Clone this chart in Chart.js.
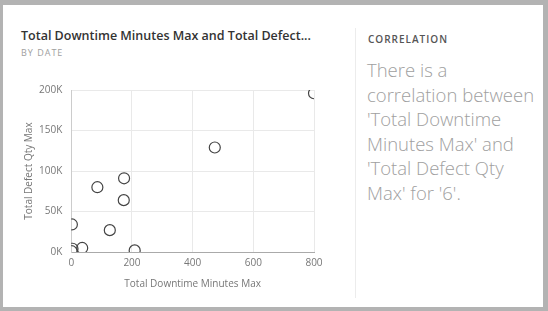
<!DOCTYPE html>
<html>
<head>
<meta charset="utf-8">
<script src="https://cdn.jsdelivr.net/npm/chart.js@4"></script>
<style>
  html, body { margin:0; padding:0; width:548px; height:311px; overflow:hidden; background:#fff; }
  #frame { position:absolute; left:0; top:0; width:548px; height:311px; box-sizing:border-box;
           border-top:5px solid #b3b3b3; border-left:3px solid #b3b3b3; border-right:5px solid #b3b3b3; border-bottom:4px solid #b3b3b3; }
  #title { position:absolute; left:21px; top:27px; font-family:"Open Sans", sans-serif; font-weight:600; font-size:12.5px; color:#333; white-space:nowrap; }
  #sub { position:absolute; left:21px; top:46px; font-family:"Open Sans", sans-serif; font-size:9px; letter-spacing:1px; color:#a0a0a0; }
  #sep { position:absolute; left:355px; top:28px; width:1px; height:270px; background:#ececec; }
  #corr { position:absolute; left:368px; top:32px; font-family:"Open Sans", sans-serif; font-weight:600; font-size:10px; letter-spacing:1px; color:#555; }
  #msg { position:absolute; left:367px; top:58px; width:180px; font-family:"Open Sans", sans-serif; font-weight:300; font-size:18.5px; line-height:24.6px; color:#a0a0a0; }
  #wrap { position:absolute; left:5px; top:75px; width:330px; height:225px; }
</style>
</head>
<body>
<div id="frame"></div>
<div id="title">Total Downtime Minutes Max and Total Defect...</div>
<div id="sub">BY DATE</div>
<div id="sep"></div>
<div id="corr">CORRELATION</div>
<div id="msg">There is a<br>correlation between<br>'Total Downtime<br>Minutes Max' and<br>'Total Defect Qty<br>Max' for '6'.</div>
<div id="wrap"><canvas id="c"></canvas></div>
<script>
const downtimeMinutes = [800, 473, 174, 86, 173, 2, 127, 4, 36, 209, 1];
const defectQty = [196000, 129000, 91000, 80000, 64000, 34000, 27000, 4000, 5000, 2000, 1000];
const xTicks = [0, 200, 400, 600, 800];
const yTicks = [0, 50000, 100000, 150000, 200000];

const points = downtimeMinutes.map((x, i) => ({ x: x, y: defectQty[i] }));

new Chart(document.getElementById('c'), {
  type: 'scatter',
  data: { datasets: [{
    data: points,
    clip: 0,
    pointRadius: 5.5,
    pointHoverRadius: 5.5,
    pointBackgroundColor: 'rgba(255,255,255,0)',
    pointBorderColor: '#444',
    pointBorderWidth: 1.2
  }]},
  options: {
    responsive: true,
    maintainAspectRatio: false,
    animation: false,
    layout: { padding: { top: 1, right: 21, bottom: 6, left: 14 } },
    plugins: { legend: { display: false }, tooltip: { enabled: false } },
    scales: {
      x: {
        type: 'linear', min: xTicks[0], max: xTicks[xTicks.length-1],
        afterBuildTicks: s => { s.ticks = xTicks.map(v => ({ value: v })); },
        grid: { color: '#e9e9e9', drawTicks: false },
        border: { color: '#aaa' },
        ticks: { color: '#777', font: { family: 'Open Sans', size: 10 }, padding: 5, maxRotation: 0 },
        title: { display: true, text: 'Total Downtime Minutes Max', color: '#777', font: { family: 'Open Sans', size: 10 }, padding: { top: 4, bottom: 4 } }
      },
      y: {
        type: 'linear', min: yTicks[0], max: yTicks[yTicks.length-1],
        afterBuildTicks: s => { s.ticks = yTicks.map(v => ({ value: v })); },
        grid: { color: '#e9e9e9', drawTicks: false },
        border: { color: '#ccc' },
        ticks: { color: '#777', font: { family: 'Open Sans', size: 10 }, padding: 9, callback: v => (v/1000) + 'K' },
        title: { display: true, text: 'Total Defect Qty Max', color: '#777', font: { family: 'Open Sans', size: 10 }, padding: { top: 4, bottom: -5 } }
      }
    }
  }
});
</script>
</body>
</html>
